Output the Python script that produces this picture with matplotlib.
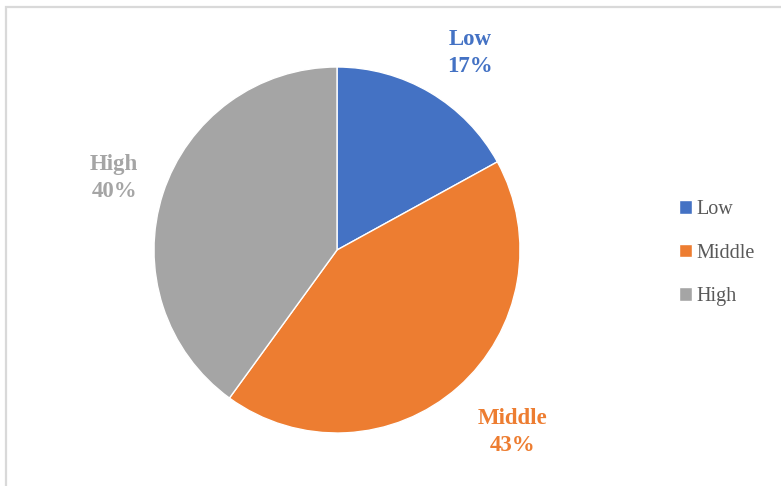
import numpy as np
import matplotlib
matplotlib.use("Agg")
import matplotlib.pyplot as plt
from matplotlib.patches import Rectangle

categories = ["Low", "Middle", "High"]
shares = [17, 43, 40]
colors = ["#4472C4", "#ED7D31", "#A5A5A5"]

plt.rcParams["font.family"] = ["Liberation Serif", "DejaVu Serif"]

W, H = 781, 486
fig = plt.figure(figsize=(W / 100, H / 100), dpi=100)

# chart frame (left/top edges visible, right/bottom run off the canvas)
fig.patches.append(Rectangle((6 / W, -0.05), 1.2, (H - 7) / H + 0.05,
                             transform=fig.transFigure, fill=False,
                             edgecolor="#D9D9D9", linewidth=1.6))

# square axes so the pie sits at pixel centre (337, 250) with radius 183
R, k = 183, 1.5
cx, cy = 337, H - 250
size = 2 * R * k
ax = fig.add_axes([(cx - size / 2) / W, (cy - size / 2) / H, size / W, size / H])

wedges, _ = ax.pie(shares, colors=colors, startangle=90, counterclock=False,
                   radius=1.0, wedgeprops=dict(edgecolor="white", linewidth=1.0))
ax.set_xlim(-k, k)
ax.set_ylim(-k, k)
ax.set_aspect("equal")
ax.axis("off")

# data-label placement: radial distance and angular nudge (degrees) per slice
label_dist = [1.30, 1.38, 1.28]
label_nudge = [-3.5, 2.5, 0.0]
total = sum(shares)
start = 90.0
for name, val, col, d, nd in zip(categories, shares, colors, label_dist, label_nudge):
    sweep = val / total * 360
    mid = np.deg2rad(start - sweep / 2 + nd)
    start -= sweep
    ax.text(d * np.cos(mid), d * np.sin(mid), f"{name}\n{val}%",
            ha="center", va="center", color=col, fontsize=16.5,
            fontweight="bold", linespacing=1.38, clip_on=False)

leg = fig.legend(wedges, categories, loc="center left",
                 bbox_to_anchor=(661 / W, 1 - 253 / H), frameon=False,
                 fontsize=14.5, labelspacing=1.22, handlelength=0.65,
                 handleheight=0.65, handletextpad=0.2)
for t in leg.get_texts():
    t.set_color("#595959")

fig.savefig("out.png", dpi=100)
